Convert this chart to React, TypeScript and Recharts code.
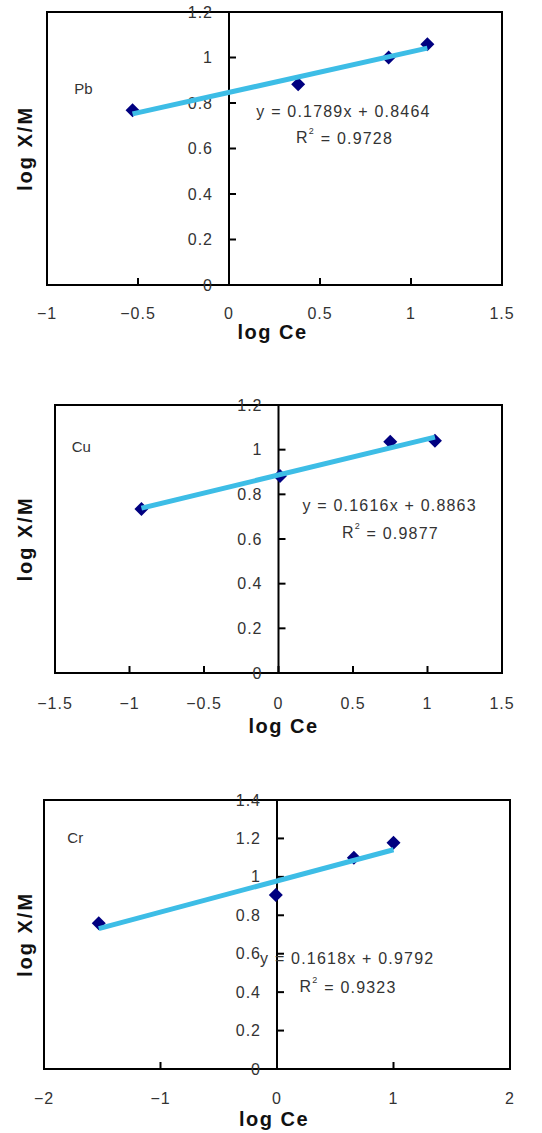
import React from 'react';
import {
  ScatterChart,
  Scatter,
  XAxis,
  YAxis,
  ReferenceLine,
  ReferenceArea,
  ReferenceDot,
} from 'recharts';

// ---- Data ----
const pbPoints = [
  { x: -0.53, y: 0.768 },
  { x: 0.38, y: 0.882 },
  { x: 0.877, y: 1.0 },
  { x: 1.09, y: 1.058 },
];
const pbTrend = [
  { x: -0.53, y: 0.752 },
  { x: 1.09, y: 1.041 },
];
const pbXTicks = [-1, -0.5, 0, 0.5, 1, 1.5];
const pbYTicks = [0, 0.2, 0.4, 0.6, 0.8, 1, 1.2];

const cuPoints = [
  { x: -0.92, y: 0.734 },
  { x: 0.01, y: 0.882 },
  { x: 0.75, y: 1.035 },
  { x: 1.05, y: 1.04 },
];
const cuTrend = [
  { x: -0.92, y: 0.738 },
  { x: 1.05, y: 1.056 },
];
const cuXTicks = [-1.5, -1, -0.5, 0, 0.5, 1, 1.5];
const cuYTicks = [0, 0.2, 0.4, 0.6, 0.8, 1, 1.2];

const crPoints = [
  { x: -1.53, y: 0.758 },
  { x: -0.01, y: 0.906 },
  { x: 0.66, y: 1.1 },
  { x: 1.0, y: 1.178 },
];
const crTrend = [
  { x: -1.53, y: 0.731 },
  { x: 1.0, y: 1.141 },
];
const crXTicks = [-2, -1, 0, 1, 2];
const crYTicks = [0, 0.2, 0.4, 0.6, 0.8, 1, 1.2, 1.4];

const FONT = '"Liberation Sans", Arial, Helvetica, sans-serif';
const MARKER = '#000080';
const TREND = '#3dbde6';
const TICK_COLOR = '#333';

type ChartCfg = {
  name: string;
  top: number;
  height: number;
  margin: { top: number; right: number; bottom: number; left: number };
  xDomain: [number, number];
  yDomain: [number, number];
  xTicks: number[];
  yTicks: number[];
  points: { x: number; y: number }[];
  trend: { x: number; y: number }[];
  equation: string;
  r2: string;
  eqPos: { x: number; y: number };
  r2Pos: { x: number; y: number };
  namePos: { x: number; y: number };
  xLabelGap: number;
  xTitleGap: number;
  xTitleShift: number;
  yTitleGap: number;
};

const charts: ChartCfg[] = [
  {
    name: 'Pb',
    top: 0,
    height: 345,
    margin: { top: 12, right: 40, bottom: 60, left: 47 },
    xDomain: [-1, 1.5],
    yDomain: [0, 1.2],
    xTicks: pbXTicks,
    yTicks: pbYTicks,
    points: pbPoints,
    trend: pbTrend,
    equation: 'y = 0.1789x + 0.8464',
    r2: '0.9728',
    eqPos: { x: 0.629, y: 0.761 },
    r2Pos: { x: 0.635, y: 0.648 },
    namePos: { x: -0.85, y: 0.864 },
    xLabelGap: 28,
    xTitleGap: 47,
    xTitleShift: -2,
    yTitleGap: 22,
  },
  {
    name: 'Cu',
    top: 370,
    height: 375,
    margin: { top: 35, right: 40, bottom: 72, left: 55 },
    xDomain: [-1.5, 1.5],
    yDomain: [0, 1.2],
    xTicks: cuXTicks,
    yTicks: cuYTicks,
    points: cuPoints,
    trend: cuTrend,
    equation: 'y = 0.1616x + 0.8863',
    r2: '0.9877',
    eqPos: { x: 0.746, y: 0.752 },
    r2Pos: { x: 0.751, y: 0.629 },
    namePos: { x: -1.388, y: 1.016 },
    xLabelGap: 30,
    xTitleGap: 53,
    xTitleShift: 5,
    yTitleGap: 30,
  },
  {
    name: 'Cr',
    top: 760,
    height: 373,
    margin: { top: 40, right: 32, bottom: 64, left: 44 },
    xDomain: [-2, 2],
    yDomain: [0, 1.4],
    xTicks: crXTicks,
    yTicks: crYTicks,
    points: crPoints,
    trend: crTrend,
    equation: 'y = 0.1618x + 0.9792',
    r2: '0.9323',
    eqPos: { x: 0.603, y: 0.573 },
    r2Pos: { x: 0.61, y: 0.428 },
    namePos: { x: -1.8, y: 1.206 },
    xLabelGap: 29,
    xTitleGap: 50,
    xTitleShift: -3,
    yTitleGap: 19,
  },
];

const fmt = (v: number) => String(v).replace('-', '\u2212');

const Diamond = (p: any) => {
  const { cx, cy } = p;
  if (cx == null || cy == null) return <g />;
  const s = 7;
  return (
    <path
      d={`M${cx},${cy - s}L${cx + s},${cy}L${cx},${cy + s}L${cx - s},${cy}Z`}
      fill={MARKER}
    />
  );
};

const NoShape = () => <g />;

function Chart({ cfg }: { cfg: ChartCfg }) {
  const [x0, x1] = cfg.xDomain;
  const [y0, y1] = cfg.yDomain;
  const xMid = (x0 + x1) / 2;
  const yMid = (y0 + y1) / 2;

  return (
    <div style={{ position: 'absolute', left: 0, top: cfg.top, width: 542, height: cfg.height }}>
      <ScatterChart width={542} height={cfg.height} margin={cfg.margin}>
        <XAxis type="number" dataKey="x" domain={cfg.xDomain} allowDataOverflow hide />
        <YAxis type="number" dataKey="y" domain={cfg.yDomain} allowDataOverflow hide />
        <ReferenceArea
          x1={x0}
          x2={x1}
          y1={y0}
          y2={y1}
          fill="#fff"
          fillOpacity={0}
          stroke="#000"
          strokeWidth={2}
          strokeOpacity={1}
          ifOverflow="visible"
        />
        <ReferenceLine x={0} stroke="#000" strokeWidth={2} ifOverflow="visible" />
        {cfg.yTicks.map((v) => (
          <ReferenceDot
            key={`yt-${v}`}
            x={0}
            y={v}
            r={0}
            ifOverflow="visible"
            shape={(p: any) => (
              <g>
                <line x1={p.cx} x2={p.cx + 7} y1={p.cy} y2={p.cy} stroke="#000" strokeWidth={2} />
                <text
                  x={p.cx - 16}
                  y={p.cy}
                  textAnchor="end"
                  dominantBaseline="central"
                  fontSize={16}
                  letterSpacing={1}
                  fill={TICK_COLOR}
                  fontFamily={FONT}
                >
                  {fmt(v)}
                </text>
              </g>
            )}
          />
        ))}
        {cfg.xTicks.map((v) => (
          <ReferenceDot
            key={`xt-${v}`}
            x={v}
            y={y0}
            r={0}
            ifOverflow="visible"
            shape={(p: any) => (
              <g>
                <line x1={p.cx} x2={p.cx} y1={p.cy} y2={p.cy - 7} stroke="#000" strokeWidth={2} />
                <text
                  x={p.cx}
                  y={p.cy + cfg.xLabelGap}
                  textAnchor="middle"
                  dominantBaseline="central"
                  fontSize={16}
                  letterSpacing={1}
                  fill={TICK_COLOR}
                  fontFamily={FONT}
                >
                  {fmt(v)}
                </text>
              </g>
            )}
          />
        ))}
        <ReferenceDot
          x={xMid}
          y={y0}
          r={0}
          ifOverflow="visible"
          shape={(p: any) => (
            <text
              x={p.cx + cfg.xTitleShift}
              y={p.cy + cfg.xTitleGap}
              textAnchor="middle"
              dominantBaseline="central"
              fontSize={20}
              fontWeight="bold"
              letterSpacing={1.5}
              fill="#111"
              fontFamily={FONT}
            >
              log Ce
            </text>
          )}
        />
        <ReferenceDot
          x={x0}
          y={yMid}
          r={0}
          ifOverflow="visible"
          shape={(p: any) => {
            const x = p.cx - cfg.yTitleGap;
            const y = p.cy;
            return (
              <text
                x={x}
                y={y}
                transform={`rotate(-90, ${x}, ${y})`}
                textAnchor="middle"
                dominantBaseline="central"
                fontSize={20}
                fontWeight="bold"
                letterSpacing={2}
                fill="#111"
                fontFamily={FONT}
              >
                log X/M
              </text>
            );
          }}
        />
        <ReferenceDot
          x={cfg.namePos.x}
          y={cfg.namePos.y}
          r={0}
          ifOverflow="visible"
          shape={(p: any) => (
            <text
              x={p.cx}
              y={p.cy}
              textAnchor="start"
              dominantBaseline="central"
              fontSize={15}
              fill={TICK_COLOR}
              fontFamily={FONT}
            >
              {cfg.name}
            </text>
          )}
        />
        <Scatter data={cfg.points} shape={Diamond} isAnimationActive={false} />
        <Scatter
          data={cfg.trend}
          line={{ stroke: TREND, strokeWidth: 5 }}
          shape={NoShape}
          isAnimationActive={false}
        />
        <ReferenceDot
          x={cfg.eqPos.x}
          y={cfg.eqPos.y}
          r={0}
          ifOverflow="visible"
          shape={(p: any) => (
            <text
              x={p.cx}
              y={p.cy}
              textAnchor="middle"
              dominantBaseline="central"
              fontSize={16}
              letterSpacing={1.2}
              fill={TICK_COLOR}
              fontFamily={FONT}
            >
              {cfg.equation}
            </text>
          )}
        />
        <ReferenceDot
          x={cfg.r2Pos.x}
          y={cfg.r2Pos.y}
          r={0}
          ifOverflow="visible"
          shape={(p: any) => (
            <text
              x={p.cx}
              y={p.cy}
              textAnchor="middle"
              dominantBaseline="central"
              fontSize={16}
              letterSpacing={1.2}
              fill={TICK_COLOR}
              fontFamily={FONT}
            >
              R
              <tspan fontSize={9} dy={-7}>
                2
              </tspan>
              <tspan dy={7}>{` = ${cfg.r2}`}</tspan>
            </text>
          )}
        />
      </ScatterChart>
    </div>
  );
}

export default function App() {
  return (
    <div
      style={{
        position: 'absolute',
        left: 0,
        top: 0,
        width: 542,
        height: 1133,
        background: '#fff',
        overflow: 'hidden',
      }}
    >
      {charts.map((c) => (
        <Chart key={c.name} cfg={c} />
      ))}
    </div>
  );
}
